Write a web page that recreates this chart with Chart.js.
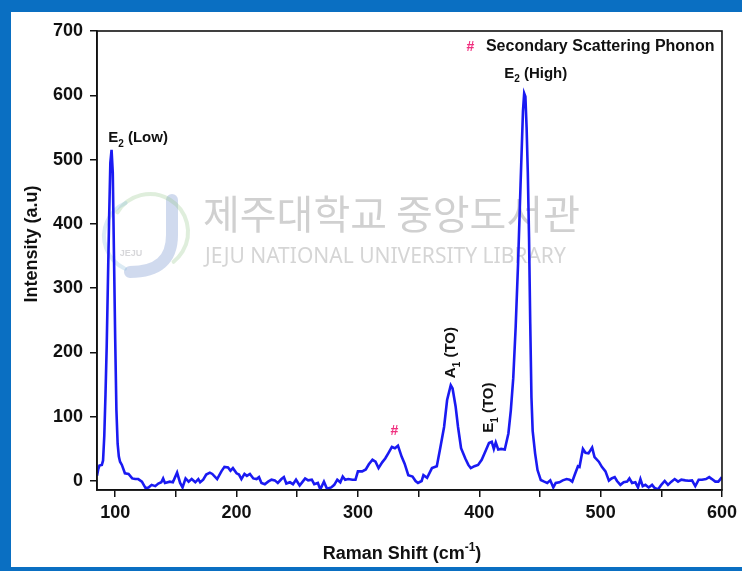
<!DOCTYPE html>
<html>
<head>
<meta charset="utf-8">
<script src="https://cdn.jsdelivr.net/npm/chart.js@4.4.1/dist/chart.umd.min.js"></script>
<style>
html, body { margin: 0; padding: 0; background: #fff; }
#wrap { position: relative; width: 742px; height: 571px; overflow: hidden; }
#frame { position: absolute; left: 0; top: 0; width: 742px; height: 571px; box-sizing: border-box;
  border-top: 12px solid #0a6fc2; border-left: 11px solid #0a6fc2; border-bottom: 4px solid #0a6fc2; pointer-events: none; }
canvas { position: absolute; left: 0; top: 0; }
</style>
</head>
<body>
<div id="wrap"><canvas id="raman" width="742" height="571"></canvas><div id="frame"></div></div>
<script>
// Raman shift (cm-1) and intensity (a.u)
var shift = [85, 86, 87, 89, 90, 91, 92, 93, 94, 95, 96, 97, 98, 99, 100, 101, 102, 103, 104, 105.5,
  108, 111, 114, 116.5, 119, 122, 125, 127.5, 130, 133, 135.5, 138, 139.5, 141, 145, 147.5, 151, 153.5, 155.5, 158,
  160.5, 163, 166, 168.5, 170, 172.5, 175, 178, 180, 184, 187.5, 190, 193, 195, 197, 200, 202, 204, 206.5, 208.5,
  211, 213.8, 216.5, 218.5, 220.5, 223.3, 226, 228.8, 231.5, 234, 237, 239, 241, 244, 246.5, 249, 252, 254.5, 256.5, 259,
  262, 264, 267, 269, 272, 274.5, 278, 280.5, 283, 285.5, 287.5, 289.5, 292, 295.5, 298, 300, 303.5, 306.5, 309, 312,
  314.5, 317, 320, 322.5, 325, 328, 330.5, 333, 336, 338.5, 341.5, 345, 347.5, 349.5, 352.5, 354, 357, 361, 365, 368,
  371, 373.5, 376.5, 378, 380.5, 382.5, 385, 388.5, 391, 393, 396, 399, 402, 405, 408, 410.3, 412, 413.6, 415.6, 418,
  421, 424, 426, 428, 430, 432, 434, 436, 437, 438, 439, 440, 441, 442, 443, 444, 446, 448, 450.7, 453.5,
  456, 458.5, 461, 463, 466, 468.8, 472, 474.4, 476.6, 478.5, 481.3, 482.6, 485.4, 487.5, 490, 493, 495, 498.5, 501, 504,
  506.8, 509, 511.6, 513.5, 516.3, 519, 521.8, 523.7, 525.9, 528.6, 530.8, 532.8, 534.7, 536.9, 539.6, 542.4, 544.6, 547.4, 550, 552.8,
  555.5, 558.3, 561, 563.8, 566.5, 569.8, 572.5, 575.3, 578, 580.8, 583.5, 586.8, 589.5, 591.7, 594.5, 597, 600];
var intensity = [8, 18, 24, 25, 32, 70, 135, 210, 310, 410, 495, 515, 480, 350, 220, 110, 58, 38, 30, 25,
  12, 11, 4, 3, 3, -1, -11, -10, -6, -8, -4, -2, 4, -3, -1, -2, 13, -3, -10, 4,
  -1, 3, -2, 3, -2, 2, 10, 13, 11, 3, 15, 22, 21, 16, 20, 12, 10, 3, 11, 8,
  11, 4, 3, 6, -3, -5, -1, 2, 1, -3, 3, 6, -4, -2, -5, 2, -7, -1, 4, 1,
  2, -5, -3, -13, -1, -12, -10, -6, 2, -2, 7, 2, 3, 2, 2, 15, 15, 18, 26, 33,
  30, 20, 29, 35, 43, 53, 51, 55, 38, 27, 9, 7, 0, -3, 0, 9, 5, 20, 23, 53,
  84, 126, 149, 144, 116, 84, 51, 35, 25, 20, 23, 25, 33, 46, 59, 61, 50, 60, 49, 50,
  49, 74, 110, 160, 240, 340, 460, 575, 603, 598, 550, 480, 380, 245, 130, 78, 43, 17, 1.5, -1,
  -3, 1, -10, -3, -2, 1, 3, 2, -1, 9, 23, 22, 50, 44, 43, 52, 37, 30, 22, 15,
  0.5, 4, 6, 0, -6, -2, -1, 4, -3, -2, -10, 3, -8, -6, -10, -6, -11, -13, -6, 0,
  -6, -1, 3, -1, 2, 1, 0.5, 1, -8, 2, 2, 3, 6, 3, -1, -1, 6];

var xTicks = [100, 150, 200, 250, 300, 350, 400, 450, 500, 550, 600];
var yTicks = [0, 100, 200, 300, 400, 500, 600, 700];

// peak labels: [x, y, parts, rotated]
var peakLabels = [
  [94.2, 527, [['E', 0], ['2', 1], [' (Low)', 0]], false],
  [420.5, 627, [['E', 0], ['2', 1], [' (High)', 0]], false],
  [380.2, 160, [['A', 0], ['1', 1], [' (TO)', 0]], true],
  [411.4, 75, [['E', 0], ['1', 1], [' (TO)', 0]], true]
];

var FONT = "'Liberation Sans', Arial, Helvetica, sans-serif";

function drawRich(ctx, parts, x, y, size) {
  var cx = x;
  parts.forEach(function (p) {
    var s = p[1] ? Math.round(size * 0.68) : size;
    ctx.font = 'bold ' + s + 'px ' + FONT;
    var dy = p[1] === 1 ? size * 0.3 : (p[1] === -1 ? -size * 0.42 : 0);
    ctx.fillText(p[0], cx, y + dy);
    cx += ctx.measureText(p[0]).width;
  });
  return cx - x;
}

function richWidth(ctx, parts, size) {
  var w = 0;
  parts.forEach(function (p) {
    var s = p[1] ? Math.round(size * 0.68) : size;
    ctx.font = 'bold ' + s + 'px ' + FONT;
    w += ctx.measureText(p[0]).width;
  });
  return w;
}

var watermark = {
  id: 'watermark',
  beforeDatasetsDraw: function (chart) {
    var ctx = chart.ctx;
    ctx.save();
    // faint library logo
    ctx.lineCap = 'round';
    ctx.strokeStyle = 'rgba(120,150,205,0.35)';
    ctx.lineWidth = 12;
    ctx.beginPath();
    ctx.moveTo(172, 200);
    ctx.lineTo(172, 235);
    ctx.quadraticCurveTo(172, 272, 130, 272);
    ctx.stroke();
    ctx.strokeStyle = 'rgba(150,200,140,0.3)';
    ctx.lineWidth = 4;
    ctx.beginPath();
    ctx.arc(150, 232, 38, -2.6, 0.9);
    ctx.stroke();
    ctx.strokeStyle = 'rgba(140,190,220,0.3)';
    ctx.beginPath();
    ctx.arc(140, 236, 36, 2.0, 4.3);
    ctx.stroke();
    ctx.fillStyle = 'rgba(140,140,150,0.35)';
    ctx.font = 'bold 9px ' + FONT;
    ctx.textAlign = 'center';
    ctx.fillText('JEJU', 131, 256);

    ctx.textAlign = 'left';
    ctx.textBaseline = 'middle';
    ctx.fillStyle = 'rgba(150,150,150,0.45)';
    ctx.font = "40px 'Noto Sans CJK KR', sans-serif";
    ctx.fillText('제주대학교 중앙도서관', 203, 214);
    ctx.font = "21px 'Noto Sans', sans-serif";
    ctx.fillStyle = 'rgba(150,150,150,0.4)';
    ctx.fillText('JEJU NATIONAL UNIVERSITY LIBRARY', 205, 257);
    ctx.restore();
  }
};

var notes = {
  id: 'notes',
  afterDraw: function (chart) {
    var ctx = chart.ctx, xs = chart.scales.x, ys = chart.scales.y, a = chart.chartArea;
    ctx.save();
    // plot frame
    ctx.strokeStyle = '#111';
    ctx.lineWidth = 1.6;
    ctx.strokeRect(a.left, a.top, a.right - a.left, a.bottom - a.top);

    ctx.fillStyle = '#111';
    ctx.textBaseline = 'alphabetic';
    ctx.textAlign = 'left';
    peakLabels.forEach(function (l) {
      var px = xs.getPixelForValue(l[0]), py = ys.getPixelForValue(l[1]);
      if (l[3]) {
        ctx.save();
        ctx.translate(px, py);
        ctx.rotate(-Math.PI / 2);
        drawRich(ctx, l[2], 0, 0, 15);
        ctx.restore();
      } else {
        drawRich(ctx, l[2], px, py, 15);
      }
    });

    // secondary scattering phonon marks
    ctx.fillStyle = '#f0307f';
    ctx.font = 'bold 14px ' + FONT;
    ctx.textAlign = 'center';
    ctx.fillText('#', xs.getPixelForValue(330), ys.getPixelForValue(72));
    ctx.textAlign = 'left';
    ctx.fillText('#', xs.getPixelForValue(389.5), ys.getPixelForValue(669));
    ctx.fillStyle = '#111';
    ctx.font = 'bold 16px ' + FONT;
    ctx.fillText('Secondary Scattering Phonon', xs.getPixelForValue(405.5), ys.getPixelForValue(669));

    // axis titles
    var xParts = [['Raman Shift (cm', 0], ['-1', -1], [')', 0]];
    var w = richWidth(ctx, xParts, 18);
    drawRich(ctx, xParts, 402 - w / 2, 559, 18);
    var yParts = [['Intensity (a.u)', 0]];
    w = richWidth(ctx, yParts, 18);
    ctx.translate(37, 244);
    ctx.rotate(-Math.PI / 2);
    drawRich(ctx, yParts, -w / 2, 0, 18);
    ctx.restore();
  }
};

new Chart(document.getElementById('raman'), {
  type: 'line',
  data: {
    datasets: [{
      label: 'Raman',
      data: shift.map(function (s, i) { return { x: s, y: intensity[i] }; }),
      borderColor: '#1a1af2',
      borderWidth: 2.6,
      pointRadius: 0,
      tension: 0,
      fill: false
    }]
  },
  options: {
    responsive: false,
    animation: false,
    devicePixelRatio: 1,
    layout: { padding: { top: 31, right: 18, left: 0, bottom: 0 } },
    plugins: { legend: { display: false }, tooltip: { enabled: false } },
    scales: {
      x: {
        type: 'linear',
        min: 85,
        max: 600,
        afterBuildTicks: function (s) { s.ticks = xTicks.map(function (v) { return { value: v }; }); },
        afterFit: function (s) { s.height = 81; },
        ticks: {
          color: '#111',
          font: { family: FONT, size: 18, weight: 'bold' },
          padding: 5,
          maxRotation: 0,
          autoSkip: false,
          callback: function (v) { return v % 100 === 0 ? v : ''; }
        },
        grid: { drawOnChartArea: false, tickLength: 7, color: '#111', lineWidth: 1.5 },
        border: { color: '#111', width: 1.6 }
      },
      y: {
        type: 'linear',
        min: -14,
        max: 700,
        afterBuildTicks: function (s) { s.ticks = yTicks.map(function (v) { return { value: v }; }); },
        afterFit: function (s) { s.width = 97; },
        ticks: {
          color: '#111',
          font: { family: FONT, size: 18, weight: 'bold' },
          padding: 7,
          autoSkip: false
        },
        grid: { drawOnChartArea: false, tickLength: 7, color: '#111', lineWidth: 1.5 },
        border: { color: '#111', width: 1.6 }
      }
    }
  },
  plugins: [watermark, notes]
});
</script>
</body>
</html>
